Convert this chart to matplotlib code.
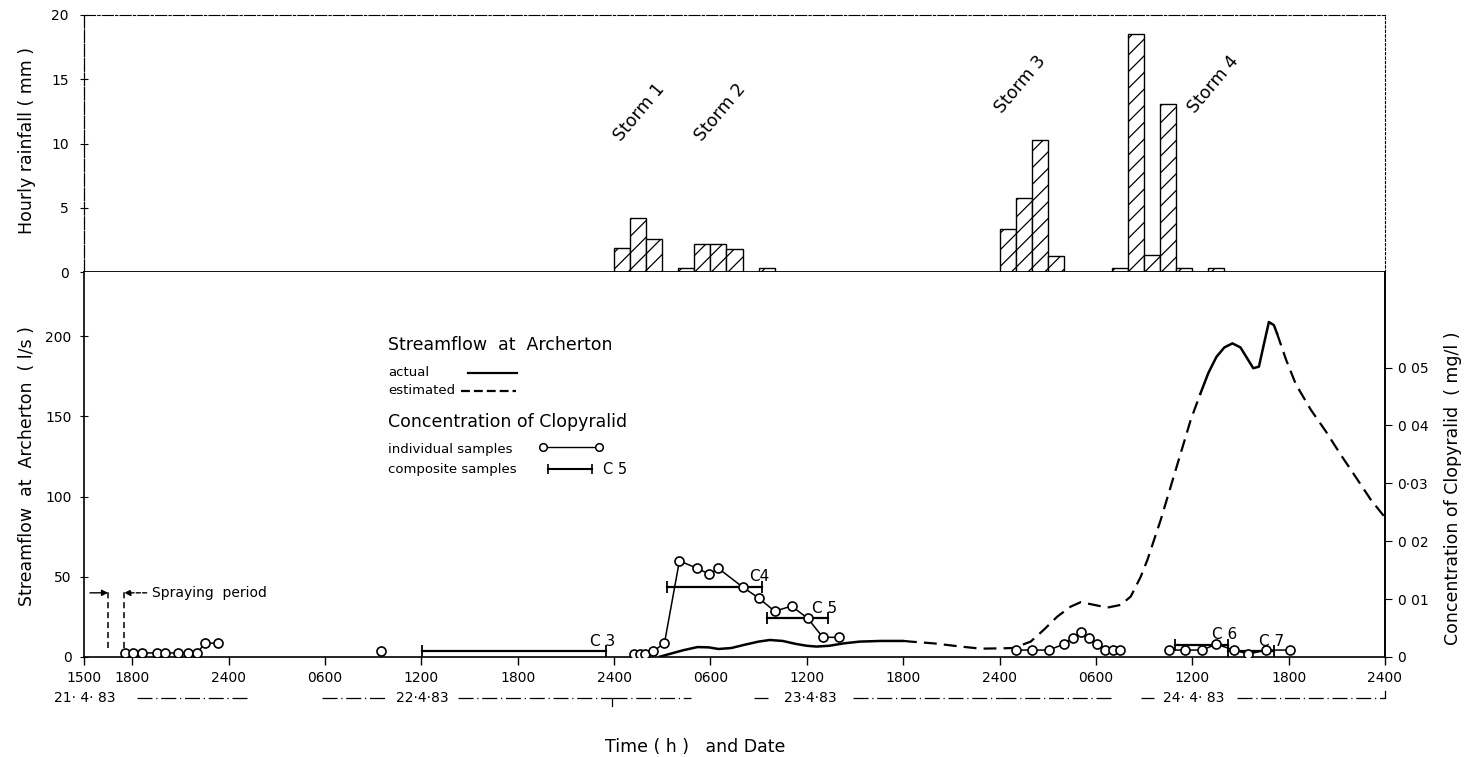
import matplotlib
matplotlib.use('Agg')
import matplotlib.pyplot as plt
import matplotlib.transforms as mtransforms
from matplotlib.lines import Line2D

plt.rcParams['font.family'] = ['DejaVu Sans']
plt.rcParams['hatch.linewidth'] = 0.9

# ---------------- data (x = hours after 1500 h on 21-4-83) ----------------
rain_hour_start = [33, 34, 35, 37, 38, 39, 40, 42, 57, 58, 59, 60, 64, 65, 66, 67, 68, 70]
rain_mm = [1.9, 4.2, 2.6, 0.3, 2.2, 2.2, 1.8, 0.3, 3.35, 5.75, 10.3, 1.25, 0.3, 18.5, 1.3, 13.05, 0.3, 0.3]

storm_names = ['Storm 1', 'Storm 2', 'Storm 3', 'Storm 4']
storm_label_h = [34.6, 39.6, 58.3, 70.3]
storm_label_mm = [12.45, 12.45, 14.6, 14.6]

# streamflow (l/s) - actual (solid) and estimated (dashed) pieces
flow_act1_h = [35.78, 36.5, 37.3, 38.2, 38.9, 39.5, 40.3, 41.2, 42.0, 42.7, 43.5, 44.3, 45.0, 45.6,
               46.4, 47.3, 48.3, 49.6, 51.05]
flow_act1_q = [0, 2.0, 4.2, 6.2, 6.0, 5.0, 5.6, 7.8, 9.6, 10.6, 10.0, 8.2, 7.0, 6.5,
               7.0, 8.5, 9.6, 10.0, 10.0]
flow_est1_h = [51.05, 51.46, 52.9, 54.58, 55.83, 57.07, 57.88, 58.94, 59.75, 60.6, 61.43, 62.06,
               62.89, 63.72, 64.55, 65.17, 65.79, 66.21, 67.04, 67.98, 68.91, 69.5]
flow_est1_q = [10.0, 9.6, 8.5, 6.5, 5.2, 5.4, 5.6, 9.6, 16.9, 25.2, 31.4, 34.2,
               32.5, 30.8, 32.5, 37.7, 50.0, 60.6, 85.6, 117.0, 148.0, 164.0]
flow_act2_h = [69.5, 70.0, 70.5, 71.0, 71.5, 72.0, 72.4, 72.8, 73.15, 73.46, 73.77, 74.08, 74.27]
flow_act2_q = [164.0, 177.0, 187.0, 193.0, 195.5, 193.0, 186.5, 180.0, 181.0, 195.0, 208.8, 206.9, 201.9]
flow_est2_h = [74.27, 74.83, 75.45, 76.39, 77.32, 78.25, 79.19, 80.12, 81.0]
flow_est2_q = [201.9, 185.6, 170.0, 154.0, 140.6, 126.0, 112.0, 98.0, 87.0]

# concentration of Clopyralid (mg/l) - individual samples, in connected groups
conc_groups_h = [
    [2.55, 3.05, 3.6, 4.55, 5.05, 5.85, 6.5, 7.04, 7.54, 8.35],
    [18.5],
    [34.27, 34.64, 34.95, 35.45, 36.14, 37.07, 38.19, 38.94, 39.50, 41.0, 42.0, 43.0, 44.05,
     45.05, 46.0, 47.0],
    [58.0, 59.0, 60.06, 61.0, 61.56, 62.06, 62.55, 63.05, 63.55, 64.05, 64.5],
    [67.54, 68.54, 69.6, 70.5, 71.6, 72.5, 73.6, 75.1],
]
conc_groups_c = [
    [0.0007, 0.0007, 0.0007, 0.0007, 0.0007, 0.0007, 0.0007, 0.0007, 0.0024, 0.0024],
    [0.001],
    [0.0005, 0.0005, 0.0005, 0.001, 0.0024, 0.0166, 0.0153, 0.0143, 0.0153, 0.0121, 0.0102,
     0.0079, 0.0088, 0.0067, 0.0034, 0.0034],
    [0.0012, 0.0012, 0.0012, 0.0022, 0.0033, 0.0043, 0.0033, 0.0022, 0.0012, 0.0012, 0.0012],
    [0.0012, 0.0012, 0.0012, 0.0022, 0.0012, 0.0005, 0.0012, 0.0012],
]

# composite samples
comp_names = ['C 3', 'C4', 'C 5', 'C 6', 'C 7']
comp_start_h = [21.05, 36.3, 42.5, 67.9, 71.2]
comp_end_h = [32.5, 42.2, 46.3, 71.2, 74.1]
comp_c = [0.001, 0.0121, 0.0067, 0.0021, 0.001]

spray_start_h, spray_end_h = 1.5, 2.5

x_ticks_h = [0, 3, 9, 15, 21, 27, 33, 39, 45, 51, 57, 63, 69, 75, 81]
x_tick_labels = ['1500', '1800', '2400', '0600', '1200', '1800', '2400', '0600', '1200',
                 '1800', '2400', '0600', '1200', '1800', '2400']
flow_ticks = [0, 50, 100, 150, 200]
conc_ticks = [0, 0.01, 0.02, 0.03, 0.04, 0.05]
conc_tick_labels = ['0', '0 01', '0 02', '0·03', '0 04', '0 05']
rain_ticks = [0, 5, 10, 15, 20]

date_labels = ['21· 4· 83', '22·4·83', '23·4·83', '24· 4· 83']
date_label_h = [0.05, 21.06, 45.2, 69.1]

# ---------------- figure ----------------
W, H = 1466, 757
fig = plt.figure(figsize=(W / 100, H / 100), dpi=100)


def fx(px):
    return px / W


def fy(py):
    return 1 - py / H


L, R = 84, 1385
ax_r = fig.add_axes([fx(L), fy(272), fx(R) - fx(L), fy(15) - fy(272)])
ax_q = fig.add_axes([fx(L), fy(657), fx(R) - fx(L), fy(272) - fy(657)])
ax_c = ax_q.twinx()

# --- rainfall panel
ax_r.bar(rain_hour_start, rain_mm, width=1, align='edge', facecolor='white',
         edgecolor='black', hatch='//', linewidth=1.0)
ax_r.set_xlim(0, 81)
ax_r.set_ylim(0, 20)
ax_r.set_xticks([])
ax_r.set_yticks(rain_ticks)
ax_r.set_yticklabels([str(t) for t in rain_ticks])
ax_r.tick_params(axis='y', direction='inout', length=6, width=0.8, labelsize=10, pad=8)
ax_r.spines['top'].set_linestyle((0, (10, 2, 2, 2)))
ax_r.spines['top'].set_linewidth(0.8)
ax_r.spines['right'].set_linestyle((0, (2, 2)))
ax_r.spines['right'].set_linewidth(0.8)
ax_r.spines['left'].set_linestyle((0, (10, 1.5)))
ax_r.spines['left'].set_linewidth(0.9)
ax_r.spines['bottom'].set_linewidth(1.3)
for name, h, mm in zip(storm_names, storm_label_h, storm_label_mm):
    ax_r.text(h, mm, name, rotation=50, ha='center', va='center', fontsize=12.5,
              rotation_mode='anchor')

# --- streamflow
lw_q = 1.8
dash = (0, (5.8, 3.2))
ax_q.plot(flow_act1_h, flow_act1_q, color='black', lw=lw_q, solid_capstyle='butt')
ax_q.plot(flow_est1_h, flow_est1_q, color='black', lw=1.6, linestyle=dash)
ax_q.plot(flow_act2_h, flow_act2_q, color='black', lw=lw_q)
ax_q.plot(flow_est2_h, flow_est2_q, color='black', lw=1.6, linestyle=dash)
ax_q.set_xlim(0, 81)
ax_q.set_ylim(0, 240)
ax_q.set_xticks(x_ticks_h)
ax_q.set_xticklabels(x_tick_labels)
ax_q.set_yticks(flow_ticks)
ax_q.set_yticklabels([str(t) for t in flow_ticks])
ax_q.tick_params(axis='x', direction='out', length=6, width=1.0, labelsize=10, pad=4)
ax_q.tick_params(axis='y', direction='inout', length=6, width=0.8, labelsize=10, pad=6)
ax_q.spines['top'].set_visible(False)
for s in ['left', 'bottom', 'right']:
    ax_q.spines[s].set_linewidth(1.2)

# spraying period
ax_q.vlines([spray_start_h, spray_end_h], 5.6, 40.6, colors='black', linestyles=(0, (4, 2.5)), lw=1.1)
ax_q.annotate('', xy=(spray_start_h, 40), xytext=(0.37, 40),
              arrowprops=dict(arrowstyle='-|>', lw=1.0, color='black', mutation_scale=9,
                              shrinkA=0, shrinkB=0))
ax_q.annotate('', xy=(spray_end_h, 40), xytext=(3.9, 40),
              arrowprops=dict(arrowstyle='-|>', lw=1.0, color='black', mutation_scale=9,
                              shrinkA=0, shrinkB=0, linestyle=(0, (3, 1.5))))
ax_q.text(4.24, 40, 'Spraying  period', ha='left', va='center', fontsize=10)

# --- concentration
ax_c.set_ylim(0, 0.0665)
ax_c.set_yticks(conc_ticks)
ax_c.set_yticklabels(conc_tick_labels)
ax_c.tick_params(axis='y', direction='out', length=5, width=0.8, labelsize=10, pad=4)
for s in ['top', 'left', 'bottom']:
    ax_c.spines[s].set_visible(False)
ax_c.spines['right'].set_linewidth(1.2)
for gh, gc in zip(conc_groups_h, conc_groups_c):
    ax_c.plot(gh, gc, color='black', lw=1.1, marker='o', markersize=6.5,
              markerfacecolor='white', markeredgecolor='black', markeredgewidth=1.2, zorder=4)
for name, s, e, c in zip(comp_names, comp_start_h, comp_end_h, comp_c):
    ax_c.plot([s, e], [c, c], color='black', lw=1.6, marker='|', markersize=8,
              markeredgewidth=1.3, zorder=3)
    ax_c.annotate(name, xy=(e, c), xytext=(-3, 10), textcoords='offset pixels',
                  ha='center', va='center', fontsize=11)

# --- date row under the axis
trans = mtransforms.blended_transform_factory(ax_q.transData, ax_q.transAxes)
yd = (657 - 698) / 385.0
for lab, h in zip(date_labels, date_label_h):
    ax_q.text(h, yd, lab, transform=trans, ha='center', va='center', fontsize=10, clip_on=False)
date_segments = [(3.3, 10.3), (14.8, 18.9), (23.3, 32.9), (32.9, 37.8), (41.7, 42.6),
                 (47.9, 57.1), (57.1, 64.1), (65.8, 66.6), (71.8, 81.0)]
for a, b in date_segments:
    ax_q.add_line(Line2D([a, b], [yd, yd], transform=trans, color='black', lw=0.9,
                         linestyle=(0, (12, 3, 1, 3)), clip_on=False))
ax_q.add_line(Line2D([32.9, 32.9], [yd - 0.002, yd - 0.022], transform=trans, color='black',
                     lw=0.9, clip_on=False))
ax_q.add_line(Line2D([81.0, 81.0], [yd, yd + 0.018], transform=trans, color='black',
                     lw=0.9, clip_on=False))

# --- axis titles
fig.text(fx(695), fy(747), 'Time ( h )   and Date', ha='center', va='center', fontsize=12.5)
fig.text(fx(27), fy(140), 'Hourly rainfall ( mm )', rotation=90, ha='center', va='center',
         fontsize=12.5)
fig.text(fx(27), fy(466), 'Streamflow  at  Archerton  ( l/s )', rotation=90, ha='center',
         va='center', fontsize=12.5)
fig.text(fx(1453), fy(488), 'Concentration of Clopyralid  ( mg/l )', rotation=90, ha='center',
         va='center', fontsize=12.5)

# --- legend block
fig.text(fx(388), fy(345), 'Streamflow  at  Archerton', ha='left', va='center', fontsize=12.5)
fig.text(fx(388), fy(373), 'actual', ha='left', va='center', fontsize=9.5)
fig.text(fx(388), fy(391), 'estimated', ha='left', va='center', fontsize=9.5)
fig.text(fx(388), fy(422), 'Concentration of Clopyralid', ha='left', va='center', fontsize=12.5)
fig.text(fx(388), fy(449), 'individual samples', ha='left', va='center', fontsize=9.5)
fig.text(fx(388), fy(469), 'composite samples', ha='left', va='center', fontsize=9.5)
fig.add_artist(Line2D([fx(468), fx(517)], [fy(373), fy(373)], transform=fig.transFigure,
                      color='black', lw=1.6))
fig.add_artist(Line2D([fx(461), fx(516)], [fy(391), fy(391)], transform=fig.transFigure,
                      color='black', lw=1.6, linestyle=(0, (4, 1.8))))
fig.add_artist(Line2D([fx(543), fx(599)], [fy(447), fy(447)], transform=fig.transFigure,
                      color='black', lw=1.0, marker='o', markersize=5.5, markerfacecolor='white',
                      markeredgecolor='black', markeredgewidth=1.1))
fig.add_artist(Line2D([fx(548), fx(592)], [fy(469), fy(469)], transform=fig.transFigure,
                      color='black', lw=1.5, marker='|', markersize=7, markeredgewidth=1.2))
fig.text(fx(603), fy(469), 'C 5', ha='left', va='center', fontsize=10.5)

fig.savefig('out.png', dpi=100)
